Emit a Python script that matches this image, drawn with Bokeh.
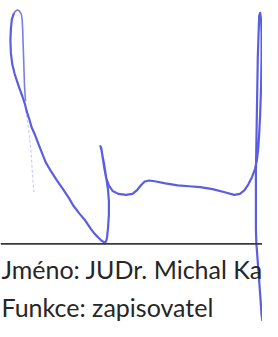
from bokeh.plotting import figure
from bokeh.models import Range1d
from bokeh.embed import file_html
from bokeh.resources import INLINE
from bokeh.core.properties import value

# Signature strokes (image pixel coords, y downward)
main_x = [14, 12, 11, 10.5, 11, 12.5, 15, 17, 20, 23, 26, 28, 31, 33, 37, 40, 44, 48, 54, 60, 67, 73, 77, 84, 90, 96, 100, 104, 107, 110, 112, 113, 114, 115, 115, 114, 112, 110, 108, 107, 106, 107, 108, 110, 112, 115, 119, 125, 133, 140, 145, 149, 153, 158, 165, 175, 188, 200, 212, 225, 237, 248, 254, 259, 263, 267, 270, 272, 273.5, 274.5, 275.5, 276.5, 277, 277, 276.5, 275.5, 274.5, 274, 273, 272.5, 272, 271.5, 271, 271, 271, 271.5, 273, 274.5, 276, 277, 278]
main_y = [14, 20, 30, 42, 55, 67, 77, 83, 92, 100, 109, 117, 126, 133, 142, 150, 160, 170, 180, 189, 199, 208, 215, 224, 231, 240, 245, 249, 252, 254, 253, 249, 240, 225, 210, 198, 185, 172, 162, 156, 153, 155, 162, 175, 186, 194, 200, 203, 204, 203, 199, 194, 190, 189, 190, 192, 194, 195, 196, 198, 201, 204, 203, 199, 193, 185, 177, 168, 155, 140, 120, 90, 60, 35, 20, 13, 16, 30, 60, 90, 120, 150, 180, 210, 240, 255, 275, 295, 315, 330, 337]

loop_x = [14, 16, 18, 20, 22, 23, 23.5, 24, 24.5, 25, 25.5, 26.5]
loop_y = [14, 11, 10, 11, 14, 20, 30, 45, 60, 75, 90, 105]

faint_x = [27, 29, 31, 32.5, 33.5, 34.5, 35.5]
faint_y = [115, 130, 145, 160, 175, 190, 201]

rule_x = [0, 278]
rule_y = [255.5, 255.5]

labels = ["Jméno: JUDr. Michal Ka", "Funkce: zapisovatel"]
label_x = [1, 1]
label_y = [282, 322]

ink = "#5a5ee0"

p = figure(width=262, height=321, output_backend="svg", toolbar_location=None,
           x_range=Range1d(0, 278), y_range=Range1d(337, 0),
           min_border=0, background_fill_color="white")
p.axis.visible = False
p.grid.visible = False
p.outline_line_color = None

p.line(loop_x, loop_y, line_color=ink, line_width=1.6, line_alpha=0.8, line_join="round", line_cap="round")
p.line(faint_x, faint_y, line_color=ink, line_width=1.2, line_alpha=0.3, line_dash="3 2")
p.line(main_x, main_y, line_color=ink, line_width=2.2, line_join="round", line_cap="round")
p.line(rule_x, rule_y, line_color="#3a3a3a", line_width=1.6)
p.text(label_x, label_y, text=labels, text_font=value("Lato"), text_font_size="25px",
       text_color="#262626", text_align="left", text_baseline="alphabetic")

open("out.html", "w").write(file_html(p, INLINE))
